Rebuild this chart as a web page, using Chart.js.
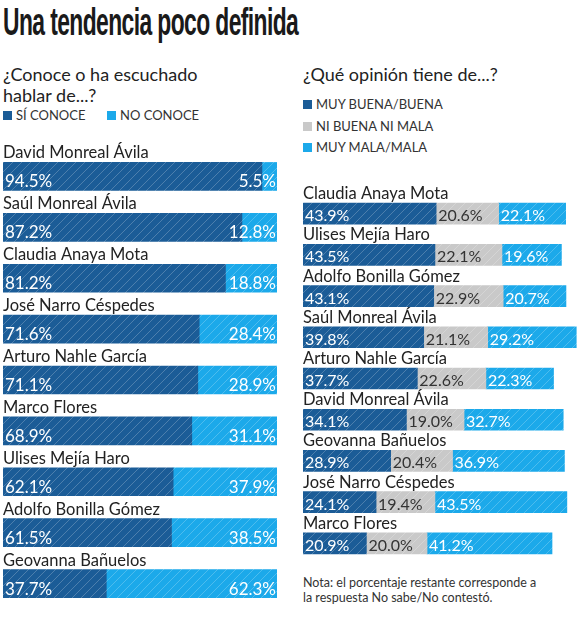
<!DOCTYPE html>
<html>
<head>
<meta charset="utf-8">
<script src="https://cdn.jsdelivr.net/npm/chart.js@4"></script>
<style>
  body { margin: 0; background: #fff; font-family: Lato, sans-serif; color: #222; }
  #wrap { position: relative; width: 579px; height: 620px; overflow: hidden; }
  .t { position: absolute; white-space: nowrap; }
  #title { left: 3px; top: 0px; font-family: "Liberation Sans Narrow", sans-serif; font-weight: bold; font-size: 38px; line-height: 44px; letter-spacing: -1px; transform-origin: 0 0; color: #1a1a1a; }
  .sub { font-size: 18px; line-height: 21px; color: #222; }
  .leg { font-size: 13px; color: #333; }
  .leg i { display: inline-block; width: 9px; height: 9px; margin-right: 4px; vertical-align: 0px; }
  .note { font-size: 12.5px; line-height: 15px; color: #333; }
  canvas { position: absolute; }
</style>
</head>
<body>
<div id="wrap">
  <div class="t" id="title">Una tendencia poco definida</div>

  <div class="t sub" style="left:3px;top:64px;">¿Conoce o ha escuchado<br>hablar de...?</div>
  <div class="t leg" style="left:3px;top:107px;"><i style="background:#1b5c97"></i>SÍ CONOCE</div>
  <div class="t leg" style="left:107px;top:107px;"><i style="background:#1ca9ea"></i>NO CONOCE</div>

  <div class="t sub" style="left:303px;top:64px;">¿Qué opinión tiene de...?</div>
  <div class="t leg" style="left:303px;top:96px;"><i style="background:#1b5c97"></i>MUY BUENA/BUENA</div>
  <div class="t leg" style="left:303px;top:118px;"><i style="background:#c9c9c9"></i>NI BUENA NI MALA</div>
  <div class="t leg" style="left:303px;top:139px;"><i style="background:#1ca9ea"></i>MUY MALA/MALA</div>

  <div class="t note" style="left:303px;top:575px;">Nota: el porcentaje restante corresponde a<br>la respuesta No sabe/No contestó.</div>

  <canvas id="chartConoce" width="290" height="490" style="left:0;top:130px;"></canvas>
  <canvas id="chartOpinion" width="289" height="400" style="left:290px;top:180px;"></canvas>
</div>

<script>
const conoceNames = ['David Monreal Ávila', 'Saúl Monreal Ávila', 'Claudia Anaya Mota', 'José Narro Céspedes',
  'Arturo Nahle García', 'Marco Flores', 'Ulises Mejía Haro', 'Adolfo Bonilla Gómez', 'Geovanna Bañuelos'];
const siConoce = [94.5, 87.2, 81.2, 71.6, 71.1, 68.9, 62.1, 61.5, 37.7];
const noConoce = [5.5, 12.8, 18.8, 28.4, 28.9, 31.1, 37.9, 38.5, 62.3];

const opinionNames = ['Claudia Anaya Mota', 'Ulises Mejía Haro', 'Adolfo Bonilla Gómez', 'Saúl Monreal Ávila',
  'Arturo Nahle García', 'David Monreal Ávila', 'Geovanna Bañuelos', 'José Narro Céspedes', 'Marco Flores'];
const buena = [43.9, 43.5, 43.1, 39.8, 37.7, 34.1, 28.9, 24.1, 20.9];
const niBuenaNiMala = [20.6, 22.1, 22.9, 21.1, 22.6, 19.0, 20.4, 19.4, 20.0];
const mala = [22.1, 19.6, 20.7, 29.2, 22.3, 32.7, 36.9, 43.5, 41.2];

const AZUL = '#1b5c97', CELESTE = '#1ca9ea', GRIS = '#c9c9c9';

// título ajustado al ancho del original
const title = document.getElementById('title');
title.style.transform = 'scaleX(' + (295 / title.offsetWidth) + ')';

function rayado(color) {
  const c = document.createElement('canvas');
  c.width = 9; c.height = 9;
  const g = c.getContext('2d');
  g.fillStyle = color;
  g.fillRect(0, 0, 9, 9);
  g.strokeStyle = 'rgba(255,255,255,0.22)';
  g.lineWidth = 1;
  g.beginPath();
  g.moveTo(-1, 10); g.lineTo(10, -1);
  g.moveTo(-1, 1); g.lineTo(1, -1);
  g.moveTo(8, 10); g.lineTo(10, 8);
  g.stroke();
  return g.createPattern(c, 'repeat');
}

// nombres encima de cada barra y porcentajes dentro
const textoBarras = {
  id: 'textoBarras',
  afterDatasetsDraw(chart, args, opts) {
    const ctx = chart.ctx;
    ctx.save();
    ctx.textBaseline = 'alphabetic';
    chart.getDatasetMeta(0).data.forEach((bar, i) => {
      ctx.font = opts.nameFont;
      ctx.fillStyle = '#222';
      ctx.textAlign = 'left';
      ctx.fillText(chart.data.labels[i], chart.chartArea.left, bar.y - bar.height / 2 - 4);
    });
    chart.data.datasets.forEach((ds, d) => {
      chart.getDatasetMeta(d).data.forEach((bar, i) => {
        const txt = ds.data[i].toFixed(1) + '%';
        const y = bar.y + bar.height / 2 - opts.drop;
        ctx.font = opts.valueFont;
        ctx.fillStyle = ds.textColor;
        if (ds.alinear === 'right') {
          ctx.textAlign = 'right';
          ctx.fillText(txt, bar.x - 1, y);
        } else {
          ctx.textAlign = 'left';
          ctx.fillText(txt, bar.base + 2, y);
        }
      });
    });
    ctx.restore();
  }
};

function opciones(max, padding, nameFont, valueFont, drop) {
  return {
    indexAxis: 'y',
    responsive: false,
    animation: false,
    layout: { padding: padding },
    scales: {
      x: { stacked: true, min: 0, max: max, display: false },
      y: { stacked: true, display: false }
    },
    plugins: {
      legend: { display: false },
      tooltip: { enabled: false },
      textoBarras: { nameFont: nameFont, valueFont: valueFont, drop: drop }
    }
  };
}

new Chart(document.getElementById('chartConoce'), {
  type: 'bar',
  data: {
    labels: conoceNames,
    datasets: [
      { data: siConoce, backgroundColor: rayado(AZUL), barThickness: 28, textColor: '#fff', alinear: 'left' },
      { data: noConoce, backgroundColor: rayado(CELESTE), barThickness: 28, textColor: '#fff', alinear: 'right' }
    ]
  },
  options: opciones(100, { left: 3, right: 13, top: 21, bottom: 11 }, '16.5px Lato', '17px Lato', 3),
  plugins: [textoBarras]
});

new Chart(document.getElementById('chartOpinion'), {
  type: 'bar',
  data: {
    labels: opinionNames,
    datasets: [
      { data: buena, backgroundColor: rayado(AZUL), barThickness: 21, textColor: '#fff' },
      { data: niBuenaNiMala, backgroundColor: rayado(GRIS), barThickness: 21, textColor: '#333' },
      { data: mala, backgroundColor: rayado(CELESTE), barThickness: 21, textColor: '#fff' }
    ]
  },
  options: opciones(91, { left: 13, right: 0, top: 13, bottom: 16 }, '16.5px Lato', '16px Lato', 3),
  plugins: [textoBarras]
});
</script>
</body>
</html>
